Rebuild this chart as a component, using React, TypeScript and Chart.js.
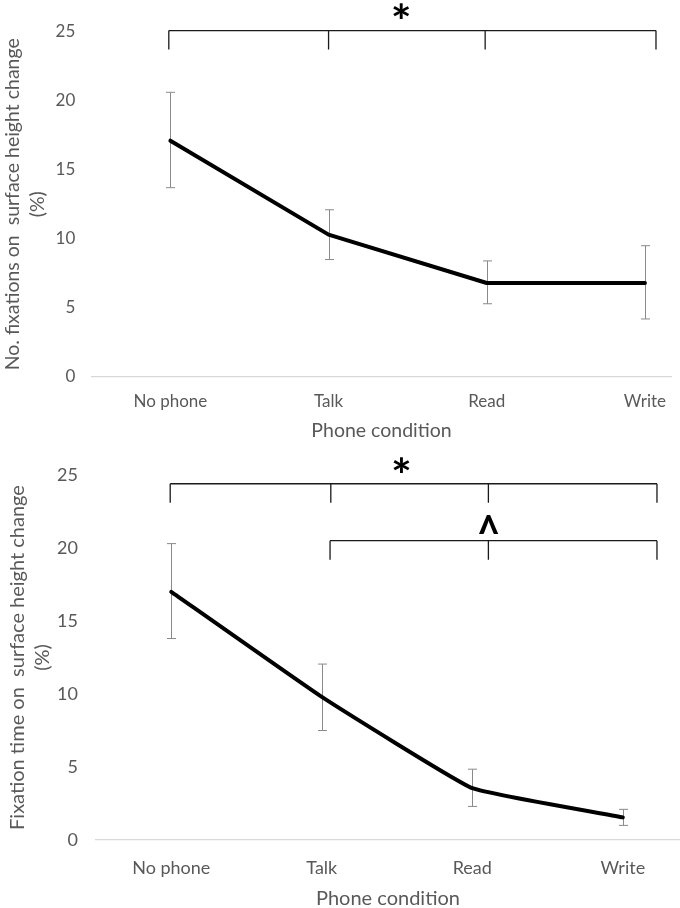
import React, { useEffect, useRef } from 'react';
import { Chart, registerables } from 'chart.js';

Chart.register(...registerables);

// ---- data ----
const categories = ['No phone', 'Talk', 'Read', 'Write'];
const yTickValues = [0, 5, 10, 15, 20, 25];

const fixCountMean = [17.1, 10.3, 6.8, 6.8];
const fixCountHigh = [20.6, 12.1, 8.4, 9.5];
const fixCountLow = [13.7, 8.5, 5.3, 4.2];

const fixTimeMean = [17.0, 9.8, 3.55, 1.55];
const fixTimeHigh = [20.3, 12.05, 4.85, 2.1];
const fixTimeLow = [13.8, 7.5, 2.3, 1.0];

// significance brackets (x in category units, y in value units)
const topBracketXs = [-0.01, 1.0, 1.99, 3.07];
const topBracketLevels = [25.07, 23.7];
const topSymbols = ['*'];

const botStarXs = [-0.007, 1.06, 2.107, 3.227];
const botStarLevels = [24.4, 23.1];
const botCaretXs = [1.055, 2.107, 3.227];
const botCaretLevels = [20.5, 19.2];
const botSymbols = ['*', '^'];

type Bracket = {
  xs: number[];
  top: number;
  bottom: number;
  symbol: string;
  sx: number;
  sy: number;
  w: number;
  h: number;
  font: string;
};

type PanelProps = {
  height: number;
  plotLeft: number;
  plotTop: number;
  plotBottom: number;
  xMax: number;
  mean: number[];
  high: number[];
  low: number[];
  yTitle: string[];
  tickSize: number;
  titleSize: number;
  yTickPad: number;
  xTickPad: number;
  titleLineHeight: number;
  yTitlePad: number;
  xTitlePadBottom: number;
  tension: number;
  brackets: Bracket[];
};

function Panel(p: PanelProps) {
  const ref = useRef<HTMLCanvasElement | null>(null);
  useEffect(() => {
    if (!ref.current) return;
    const font = 'Lato';
    const gray = '#595959';
    const annot = {
      id: 'annot',
      beforeDatasetsDraw(chart: any) {
        const ctx = chart.ctx;
        const xs = chart.scales.x;
        const ys = chart.scales.y;
        ctx.save();
        ctx.strokeStyle = '#8a8a8a';
        ctx.lineWidth = 1;
        p.mean.forEach((_, i) => {
          const x = Math.round(xs.getPixelForValue(i)) + 0.5;
          const yh = ys.getPixelForValue(p.high[i]);
          const yl = ys.getPixelForValue(p.low[i]);
          ctx.beginPath();
          ctx.moveTo(x, yh);
          ctx.lineTo(x, yl);
          ctx.moveTo(x - 4.5, yh);
          ctx.lineTo(x + 4.5, yh);
          ctx.moveTo(x - 4.5, yl);
          ctx.lineTo(x + 4.5, yl);
          ctx.stroke();
        });
        ctx.restore();
      },
      afterDraw(chart: any) {
        const ctx = chart.ctx;
        const xs = chart.scales.x;
        const ys = chart.scales.y;
        p.brackets.forEach((b) => {
          ctx.save();
          ctx.strokeStyle = '#1a1a1a';
          ctx.lineWidth = 1.3;
          const yt = ys.getPixelForValue(b.top);
          const yb = ys.getPixelForValue(b.bottom);
          const px = b.xs.map((v) => xs.getPixelForValue(v));
          ctx.beginPath();
          ctx.moveTo(px[0], yt);
          ctx.lineTo(px[px.length - 1], yt);
          px.forEach((x) => {
            ctx.moveTo(x, yt);
            ctx.lineTo(x, yb);
          });
          ctx.stroke();
          // symbol, scaled to the box seen in the reference
          ctx.fillStyle = '#000';
          ctx.font = b.font;
          ctx.textAlign = 'left';
          ctx.textBaseline = 'alphabetic';
          const m = ctx.measureText(b.symbol);
          const bl = m.actualBoundingBoxLeft;
          const br = m.actualBoundingBoxRight;
          const ba = m.actualBoundingBoxAscent;
          const bd = m.actualBoundingBoxDescent;
          const mw = bl + br || 1;
          const mh = ba + bd || 1;
          const cx = xs.getPixelForValue(b.sx);
          const cy = ys.getPixelForValue(b.sy);
          ctx.translate(cx, cy);
          ctx.scale(b.w / mw, b.h / mh);
          ctx.fillText(b.symbol, -(br - bl) / 2, -(bd - ba) / 2);
          ctx.restore();
        });
      },
    };

    const chart = new Chart(ref.current, {
      type: 'line',
      data: {
        datasets: [
          {
            data: p.mean.map((v, i) => ({ x: i, y: v })),
            borderColor: '#000',
            borderWidth: 4,
            pointRadius: 0,
            tension: p.tension,
            borderJoinStyle: 'round',
            borderCapStyle: 'round',
            fill: false,
          },
        ],
      },
      options: {
        animation: false,
        responsive: false,
        maintainAspectRatio: false,
        devicePixelRatio: 1,
        layout: { padding: { top: p.plotTop, right: 0, left: 0, bottom: 0 } },
        plugins: { legend: { display: false }, tooltip: { enabled: false } },
        scales: {
          x: {
            type: 'linear',
            min: -0.5,
            max: p.xMax,
            grid: { display: false, drawTicks: false },
            border: { display: true, color: '#d9d9d9', width: 1.3 },
            afterBuildTicks: (axis: any) => {
              axis.ticks = categories.map((_, i) => ({ value: i }));
            },
            afterFit: (scale: any) => {
              scale.height = p.height - p.plotBottom;
            },
            ticks: {
              autoSkip: false,
              maxRotation: 0,
              padding: p.xTickPad,
              color: gray,
              font: { family: font, size: p.tickSize },
              callback: (v: any) => categories[v] ?? '',
            },
            title: {
              display: true,
              text: 'Phone condition',
              color: gray,
              font: { family: font, size: p.titleSize, lineHeight: 1.2 },
              padding: { top: 0, bottom: p.xTitlePadBottom },
            },
          },
          y: {
            min: 0,
            max: 25,
            grid: { display: false, drawTicks: false },
            border: { display: false },
            afterBuildTicks: (axis: any) => {
              axis.ticks = yTickValues.map((v) => ({ value: v }));
            },
            afterFit: (scale: any) => {
              scale.width = p.plotLeft;
            },
            ticks: {
              padding: p.yTickPad,
              color: gray,
              font: { family: font, size: p.tickSize },
            },
            title: {
              display: true,
              text: p.yTitle,
              color: gray,
              font: { family: font, size: p.titleSize, lineHeight: p.titleLineHeight },
              padding: { top: p.yTitlePad, bottom: 0 },
            },
          },
        },
      },
      plugins: [annot],
    } as any);
    return () => chart.destroy();
  }, []);
  return (
    <div style={{ width: 680, height: p.height, position: 'relative' }}>
      <canvas ref={ref} width={680} height={p.height} style={{ display: 'block' }} />
    </div>
  );
}

export default function App() {
  return (
    <div style={{ position: 'absolute', left: 0, top: 0, width: 680, height: 908, background: '#fff' }}>
      <Panel
        height={440}
        plotLeft={91.3}
        plotTop={31.5}
        plotBottom={377}
        xMax={3.17}
        mean={fixCountMean}
        high={fixCountHigh}
        low={fixCountLow}
        yTitle={['No. fixations on  surface height change', '(%)']}
        tickSize={17}
        titleSize={19.5}
        yTickPad={16}
        xTickPad={14}
        titleLineHeight={1.3}
        yTitlePad={0}
        xTitlePadBottom={-2}
        tension={0}
        brackets={[
          {
            xs: topBracketXs,
            top: topBracketLevels[0],
            bottom: topBracketLevels[1],
            symbol: topSymbols[0],
            sx: 1.46,
            sy: 26.55,
            w: 16,
            h: 16,
            font: 'bold 40px Lato',
          },
        ]}
      />
      <Panel
        height={468}
        plotLeft={96}
        plotTop={35}
        plotBottom={400}
        xMax={3.38}
        mean={fixTimeMean}
        high={fixTimeHigh}
        low={fixTimeLow}
        yTitle={['Fixation time on  surface height change', '(%)']}
        tickSize={18}
        titleSize={20}
        yTickPad={18}
        xTickPad={17}
        titleLineHeight={1.25}
        yTitlePad={5}
        xTitlePadBottom={-3}
        tension={0.1}
        brackets={[
          {
            xs: botStarXs,
            top: botStarLevels[0],
            bottom: botStarLevels[1],
            symbol: botSymbols[0],
            sx: 1.53,
            sy: 25.7,
            w: 16,
            h: 16,
            font: 'bold 40px Lato',
          },
          {
            xs: botCaretXs,
            top: botCaretLevels[0],
            bottom: botCaretLevels[1],
            symbol: botSymbols[1],
            sx: 2.107,
            sy: 21.68,
            w: 21,
            h: 20,
            font: 'bold 40px Lato',
          },
        ]}
      />
    </div>
  );
}
